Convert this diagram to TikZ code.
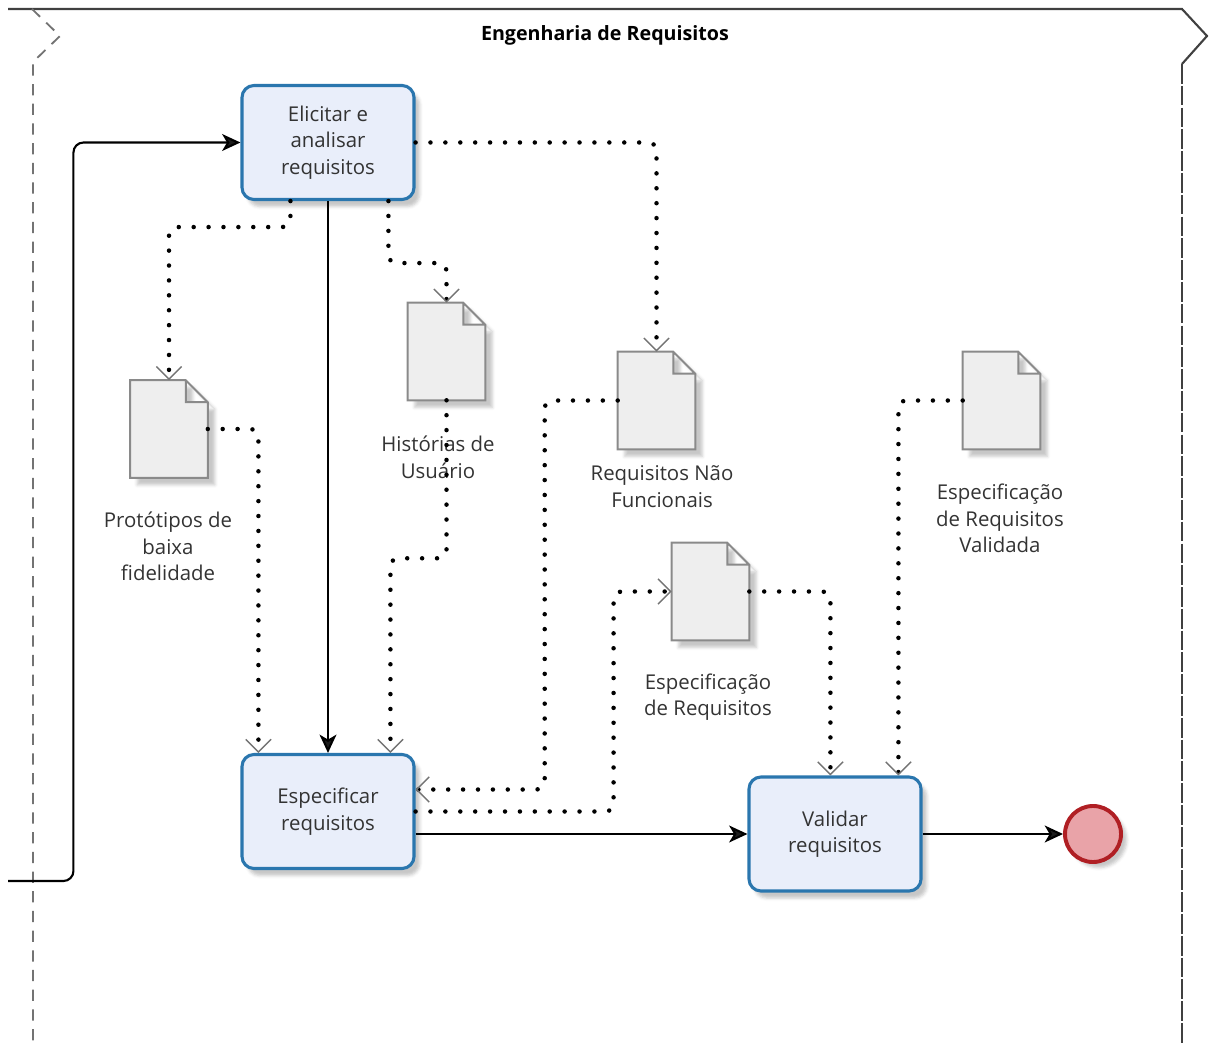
\documentclass[tikz,border=0pt]{standalone}
\usepackage{fontspec}
\setmainfont{Open Sans}
\usetikzlibrary{calc,arrows.meta,shadows.blur}

\definecolor{taskfill}{HTML}{E9EEFA}
\definecolor{taskline}{HTML}{2A76AE}
\definecolor{docfill}{HTML}{EEEEEE}
\definecolor{docline}{HTML}{8A8A8A}
\definecolor{endfill}{HTML}{E9A3A8}
\definecolor{endline}{HTML}{B01F24}
\definecolor{txt}{HTML}{333333}

\begin{document}
\begin{tikzpicture}[x=0.025cm, y=-0.025cm]
    \useasboundingbox (0,0) rectangle (1209,1043);
    % activities
    \tikzstyle{task}=[rectangle, rounded corners=0.3cm, draw=taskline, fill=taskfill,
        line width=2.2pt, minimum width=4.3cm, minimum height=2.85cm, align=center,
        text=txt, font=\fontsize{14.5}{18.8}\selectfont,
        blur shadow={shadow xshift=4pt, shadow yshift=-5pt, shadow opacity=22}]
    % data objects (outline drawn below)
    \tikzstyle{doc}=[rectangle, inner sep=0, minimum width=1.925cm, minimum height=2.425cm]
    \tikzstyle{docshape}=[draw=docline, fill=docfill, line width=1.4pt, line join=miter,
        blur shadow={shadow xshift=5pt, shadow yshift=-5pt, shadow opacity=22}]
    \tikzstyle{lbl}=[align=center, text=txt, font=\fontsize{14.5}{18.8}\selectfont, inner sep=0]
    % sequence flow and association
    \tikzstyle{flow}=[line width=1.5pt, rounded corners=0.25cm,
        -{Stealth[length=13pt, width=12pt, inset=3.5pt]}]
    \tikzstyle{assoc}=[line width=3.2pt, line cap=round, dash pattern=on 0pt off 10.6pt,
        rounded corners=0.2cm,
        -{Straight Barb[length=9pt, width=18pt, line width=1pt, color=black!55]}]

    % pool border
    \draw[line width=1.5pt, draw=black!75] (8,9) -- (1182,9) -- (1207,36) -- (1182,64);
    \draw[line width=1.5pt, draw=black!75, dash pattern=on 14pt off 1.5pt] (1182,64) -- (1182,1043);
    \draw[line width=1.3pt, draw=black!55, dash pattern=on 8pt off 6pt] (32,9) -- (60,36) -- (33,62) -- (33,1043);
    \node[font=\bfseries\fontsize{14}{17}\selectfont] (pool) at (605,35) {Engenharia de Requisitos};

    % activities
    \node[task] (E) at (328,142.5) {Elicitar e\\analisar\\requisitos};
    \node[task] (S) at (328,811.5) {Especificar\\requisitos};
    \node[task] (V) at (835,834) {Validar\\requisitos};
    \node[circle, draw=endline, fill=endfill, line width=2.8pt, minimum size=1.4cm,
        blur shadow={shadow xshift=4pt, shadow yshift=-4pt, shadow opacity=22}] (end) at (1093,834) {};

    % data objects
    \node[doc] (proto) at (169,429) {};
    \node[doc] (hist) at (446.5,351.5) {};
    \node[doc] (rnf) at (656.5,400.5) {};
    \node[doc] (espec) at (710.5,591.5) {};
    \node[doc] (espval) at (1001.5,400.5) {};
    \foreach \d in {proto,hist,rnf,espec,espval}
        \draw[docshape] (\d.south west) -- (\d.north west) -- ($(\d.north east)+(-22,0)$)
            -- ($(\d.north east)+(0,22)$) -- (\d.south east) -- cycle
            ($(\d.north east)+(-22,0)$) |- ($(\d.north east)+(0,22)$);

    \node[lbl] (protoL) at ($(proto)+(-1,117.5)$) {Protótipos de\\baixa\\fidelidade};
    \node[lbl] (histL) at ($(hist)+(-8.5,106)$) {Histórias de\\Usuário};
    \node[lbl] (rnfL) at ($(rnf)+(5.5,86)$) {Requisitos Não\\Funcionais};
    \node[lbl] (especL) at ($(espec)+(-2.5,105.5)$) {Especificação\\de Requisitos};
    \node[lbl] (espvalL) at ($(espval)+(-1.5,118)$) {Especificação\\de Requisitos\\Validada};

    % sequence flows
    \coordinate (in) at (8,881);
    \draw[flow] (in) -| ($(E.west)+(-167,0)$) -- (E.west);
    \draw[flow] (E.south) -- (S.north);
    \draw[flow] (S.east |- V.west) -- (V.west);
    \draw[flow] (V.east) -- (end.west);

    % associations
    \draw[assoc] ($(E.south west)+(50,0)$) -- ++(0,26) -| (proto.north);
    \draw[assoc] ($(E.south west)+(148,0)$) -- ++(0,62) -| (hist.north);
    \draw[assoc] (E.east) -| (rnf.north);
    \draw[assoc] (proto.east) -| ($(S.north west)+(18,0)$);
    \draw[assoc] (hist.south) -- ++(0,158) -| ($(S.north west)+(150,0)$);
    \draw[assoc] (rnf.west) -- ++(-73,0) |- ($(S.east)+(0,-22)$);
    \draw[assoc] (S.east) -- ++(198,0) |- (espec.west);
    \draw[assoc] (espec.east) -| ($(V.north west)+(83,0)$);
    \draw[assoc] (espval.west) -| ($(V.north west)+(151,0)$);
\end{tikzpicture}
\end{document}
